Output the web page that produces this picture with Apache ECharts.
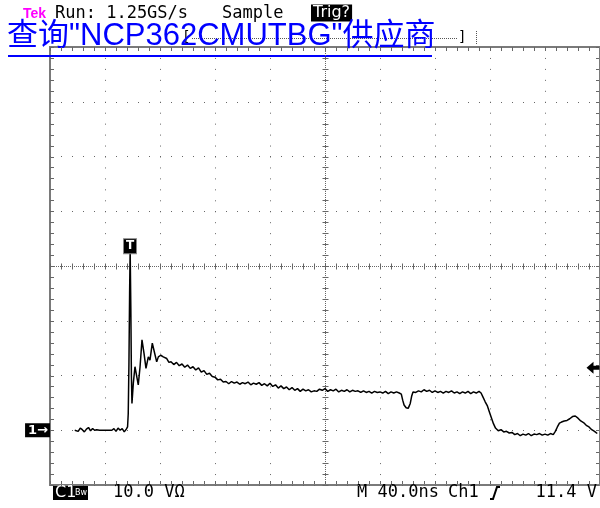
<!DOCTYPE html>
<html>
<head>
<meta charset="utf-8">
<script src="https://cdn.jsdelivr.net/npm/echarts@6/dist/echarts.min.js"></script>
<style>
  html, body { margin: 0; padding: 0; background: #fff; }
  #chart { width: 600px; height: 508px; }
</style>
</head>
<body>
<div id="chart"></div>
<script>
// Status lines of the scope screen
const headerStatus = ['Tek', 'Run: 1.25GS/s', 'Sample', 'Trig?'];
const footerStatus = ['C1', '10.0 VΩ', 'M 40.0ns', 'Ch1', '11.4 V'];
const linkTitle = '查询"NCP362CMUTBG"供应商';

// Graticule: 10 divisions of 40 ns across, 8 divisions of 10 V up (ground one division above bottom)
const timeTicks = [0, 40, 80, 120, 160, 200, 240, 280, 320, 360, 400];
const voltTicks = [-10, 0, 10, 20, 30, 40, 50, 60, 70];
const triggerTime = 58.2;   // ns from left edge
const triggerLevel = 11.4;  // V
const triggerMarkVolts = 33.6;

// Captured trace: [time in ns from left edge, volts]
const trace = [
  [18, 0.0], [19, 0.3], [20.5, -0.2], [22, 0.4], [23.5, 0.1], [25, -0.3], [26.5, 0.2], [28, 0.5],
  [29.5, -0.1], [31, 0.3], [32.5, 0.0], [34, 0.1], [36, 0.0], [45, 0.0], [46.5, 0.3], [48, -0.2],
  [49.5, 0.4], [51, 0.0], [52.5, 0.3], [54, -0.3], [55.5, 0.2], [56.4, 0.6],
  [56.9, 3.0], [57.4, 12.0], [57.9, 25.0], [58.3, 33.0], [58.8, 22.0], [59.2, 10.0], [59.6, 4.9],
  [60.6, 8.6], [61.8, 11.6], [63.1, 9.8], [64.2, 8.3], [65.5, 11.6], [66.9, 16.5], [68.4, 14.0],
  [69.8, 11.3], [71.5, 13.4], [72.7, 12.8], [74.4, 15.9], [75.9, 14.3], [77.6, 12.5], [78.8, 13.4],
  [80.5, 13.7], [82.4, 13.4], [84.9, 13.1], [86.5, 12.4],
  [88, 12.5], [90, 12.0], [92, 12.4], [94, 11.8], [96, 12.1], [98, 11.5], [100, 11.9], [102, 11.3],
  [104, 11.6], [106, 11.0], [108, 11.4], [110, 10.6], [112, 10.9], [114, 10.2], [116, 10.4], [118, 9.8],
  [120, 9.7], [122, 9.2], [124, 9.3], [126, 8.8], [128, 8.9], [130, 8.5], [132, 8.9], [134, 8.6],
  [136, 8.8], [138, 8.4], [140, 8.7], [142, 8.5], [144, 8.8], [146, 8.3], [148, 8.6], [150, 8.4],
  [152, 8.7], [154, 8.2], [156, 8.5], [158, 8.1], [160, 8.6], [162, 8.0], [164, 8.3], [166, 7.7],
  [168, 8.1], [170, 7.6], [172, 7.9], [174, 7.4], [176, 7.8], [178, 7.3], [180, 7.6], [182, 7.1],
  [184, 7.5], [186, 7.2], [188, 7.4], [190, 7.0], [192, 7.2], [194, 7.1], [196, 7.5], [198, 7.3],
  [200, 7.6], [202, 7.1], [204, 7.4], [206, 7.2], [208, 7.5], [210, 7.0], [212, 7.3], [214, 7.1],
  [216, 7.4], [218, 7.0], [220, 7.3], [222, 7.1], [224, 7.2], [226, 6.9], [228, 7.2], [230, 6.9],
  [232, 7.1], [234, 6.8], [236, 7.1], [238, 6.9], [240, 7.0], [242, 6.8], [244, 7.1], [246, 6.7],
  [248, 7.0], [250, 6.8], [252, 7.0], [254, 6.8], [255.5, 6.6], [256.5, 5.5], [257.5, 4.6], [259, 4.1],
  [260.5, 4.0], [262, 4.9], [263, 6.2], [264, 7.0], [266, 6.9], [268, 7.2], [270, 7.0], [272, 7.4],
  [274, 7.1], [276, 7.3], [278, 6.9], [280, 7.2], [282, 6.9], [284, 7.1], [286, 6.8], [288, 7.1],
  [290, 6.9], [292, 7.2], [294, 6.8], [296, 7.0], [298, 6.7], [300, 7.0], [302, 6.8], [304, 7.1],
  [306, 6.7], [308, 7.0], [310, 6.8], [312, 7.1], [313.5, 6.8], [315, 6.0], [316.5, 5.2], [318, 4.5],
  [319.5, 3.4], [321, 2.3], [322.5, 1.2], [324, 0.4], [326, -0.1], [328, 0.1], [330, -0.3], [332, -0.2],
  [334, -0.5], [336, -0.4], [338, -0.8], [340, -0.6], [342, -1.0], [344, -0.7], [346, -0.9], [348, -0.6],
  [350, -1.0], [352, -0.7], [354, -0.8], [356, -0.6], [358, -0.9], [360, -0.7], [362, -0.9], [364, -0.6],
  [366, -0.8], [367.5, -0.2], [369, 0.6], [370.5, 1.3], [372, 1.5], [374, 1.7], [376, 1.8], [378, 2.1],
  [380, 2.5], [382, 2.6], [384, 2.2], [386, 1.7], [388, 1.4], [390, 0.9], [392, 0.6], [394, 0.1],
  [396, -0.2], [398, -0.6]
];

const T0 = timeTicks[0], T1 = timeTicks[timeTicks.length - 1];
const V0 = voltTicks[0], V1 = voltTicks[voltTicks.length - 1];
const SCOPE_FONT = '"DejaVu Sans Mono", monospace';
const SANS_FONT = '"DejaVu Sans", sans-serif';

// Draws the centre cross and the minor tick marks of the graticule
function drawGraticule(params, api) {
  const pLow = api.coord([T0, V0]);
  const pHigh = api.coord([T1, V1]);
  const left = pLow[0], bottom = pLow[1], right = pHigh[0], top = pHigh[1];
  const cx = Math.round(api.coord([(T0 + T1) / 2, 0])[0]) + 0.5;
  const cy = Math.round(api.coord([0, (V0 + V1) / 2])[1]) + 0.5;
  const els = [];
  const seg = (x1, y1, x2, y2, dash) => els.push({
    type: 'line', silent: true,
    shape: { x1, y1, x2, y2 },
    style: { stroke: '#666', lineWidth: 1, lineDash: dash || null }
  });
  seg(cx, top, cx, bottom, [1, 1]);
  seg(left, cy, right, cy, [1, 1]);
  const tStep = (timeTicks[1] - timeTicks[0]) / 5;
  for (let i = 0; T0 + i * tStep <= T1 + 1e-6; i++) {
    const x = Math.round(api.coord([T0 + i * tStep, 0])[0]) + 0.5;
    seg(x, top + 1, x, top + 4);
    seg(x, bottom - 4, x, bottom - 1);
    seg(x, cy - 3, x, cy + 3);
  }
  const vStep = (voltTicks[1] - voltTicks[0]) / 5;
  for (let i = 0; V0 + i * vStep <= V1 + 1e-6; i++) {
    const y = Math.round(api.coord([0, V0 + i * vStep])[1]) + 0.5;
    seg(left + 1, y, left + 4, y);
    seg(right - 4, y, right - 1, y);
    seg(cx - 3, y, cx + 3, y);
  }
  return { type: 'group', children: els };
}

const chart = echarts.init(document.getElementById('chart'), null, { renderer: 'canvas' });

const textEl = (x, y, text, extra) => ({
  type: 'text', x, y, silent: true,
  style: Object.assign({ text, font: '17px ' + SCOPE_FONT, fill: '#000', textVerticalAlign: 'middle' }, extra || {})
});

chart.setOption({
  animation: false,
  backgroundColor: '#fff',
  grid: {
    left: 50, top: 47, width: 550, height: 438,
    show: true, borderColor: '#7a7a7a', borderWidth: 2, backgroundColor: 'transparent'
  },
  xAxis: {
    type: 'value', min: T0, max: T1, interval: timeTicks[1] - timeTicks[0],
    axisLine: { show: false }, axisTick: { show: false }, axisLabel: { show: false },
    splitLine: { show: true, lineStyle: { color: '#666', width: 1, type: [1, 9.95] } }
  },
  yAxis: {
    type: 'value', min: V0, max: V1, interval: voltTicks[1] - voltTicks[0],
    axisLine: { show: false }, axisTick: { show: false },
    axisLabel: {
      show: true, margin: 0,
      formatter: v => (v === 0 ? '{g|1→}' : ''),
      rich: {
        g: {
          color: '#fff', backgroundColor: '#000', fontFamily: SANS_FONT,
          fontWeight: 'bold', fontSize: 13, padding: [1, 2, 0, 3], lineHeight: 14
        }
      }
    },
    splitLine: { show: true, lineStyle: { color: '#666', width: 1, type: [1, 10] } }
  },
  series: [
    {
      type: 'custom', silent: true, clip: false, z: 1,
      data: [[T0, V0]],
      renderItem: drawGraticule
    },
    {
      type: 'line', data: trace, showSymbol: false, silent: true, z: 3,
      lineStyle: { color: '#000', width: 1.5 },
      markPoint: {
        silent: true,
        data: [
          {
            coord: [triggerTime, triggerMarkVolts], symbol: 'rect', symbolSize: [13, 15],
            itemStyle: { color: '#000', borderColor: '#888', borderWidth: 1 },
            label: { show: true, position: 'inside', formatter: 'T', color: '#fff',
                     fontFamily: SANS_FONT, fontWeight: 'bold', fontSize: 12 }
          },
          {
            coord: [T1, triggerLevel], symbol: 'path://M0,6L7,0L7,4L13,4L13,8L7,8L7,12Z',
            symbolSize: [13, 12], symbolOffset: [-7, 0], symbolKeepAspect: false,
            itemStyle: { color: '#000' }, label: { show: false }
          }
        ]
      }
    }
  ],
  graphic: [
    // header line
    textEl(23, 14, headerStatus[0], { fill: '#ff00ff', font: 'bold 14px "Liberation Sans", sans-serif' }),
    textEl(55, 14, headerStatus[1]),
    textEl(222, 14, headerStatus[2]),
    textEl(311, 13, headerStatus[3], { fill: '#fff', backgroundColor: '#000', padding: [1, 2, 0, 2], font: '16px ' + SANS_FONT }),
    // record-position bar
    { type: 'line', silent: true, shape: { x1: 192, y1: 38.5, x2: 458, y2: 38.5 },
      style: { stroke: '#555', lineWidth: 1, lineDash: [1, 1] } },
    textEl(184, 37, '[', { font: '14px ' + SANS_FONT }),
    textEl(459, 37, ']', { font: '14px ' + SANS_FONT }),
    { type: 'line', silent: true, shape: { x1: 476.5, y1: 31, x2: 476.5, y2: 45 },
      style: { stroke: '#555', lineWidth: 1, lineDash: [1, 1] } },
    // linked title over the header
    textEl(7, 36, linkTitle, { fill: '#0000ff', font: '31px "Liberation Sans", "Noto Sans CJK SC", sans-serif' }),
    { type: 'rect', silent: true, shape: { x: 8, y: 55, width: 424, height: 2 }, style: { fill: '#0000ff' } },
    // footer line
    { type: 'rect', silent: true, shape: { x: 53, y: 486, width: 35, height: 14 }, style: { fill: '#000' } },
    textEl(55, 493, footerStatus[0], { fill: '#fff', font: '16px ' + SANS_FONT }),
    textEl(75, 493, 'Bw', { fill: '#fff', font: '8px ' + SANS_FONT }),
    textEl(113, 493, footerStatus[1]),
    textEl(357, 493, footerStatus[2]),
    textEl(448, 493, footerStatus[3]),
    { type: 'polyline', silent: true, shape: { points: [[490, 499], [493, 499], [497, 487], [500, 487]] },
      style: { stroke: '#000', lineWidth: 2, fill: null } },
    textEl(597, 493, footerStatus[4], { textAlign: 'right' })
  ]
});
</script>
</body>
</html>
